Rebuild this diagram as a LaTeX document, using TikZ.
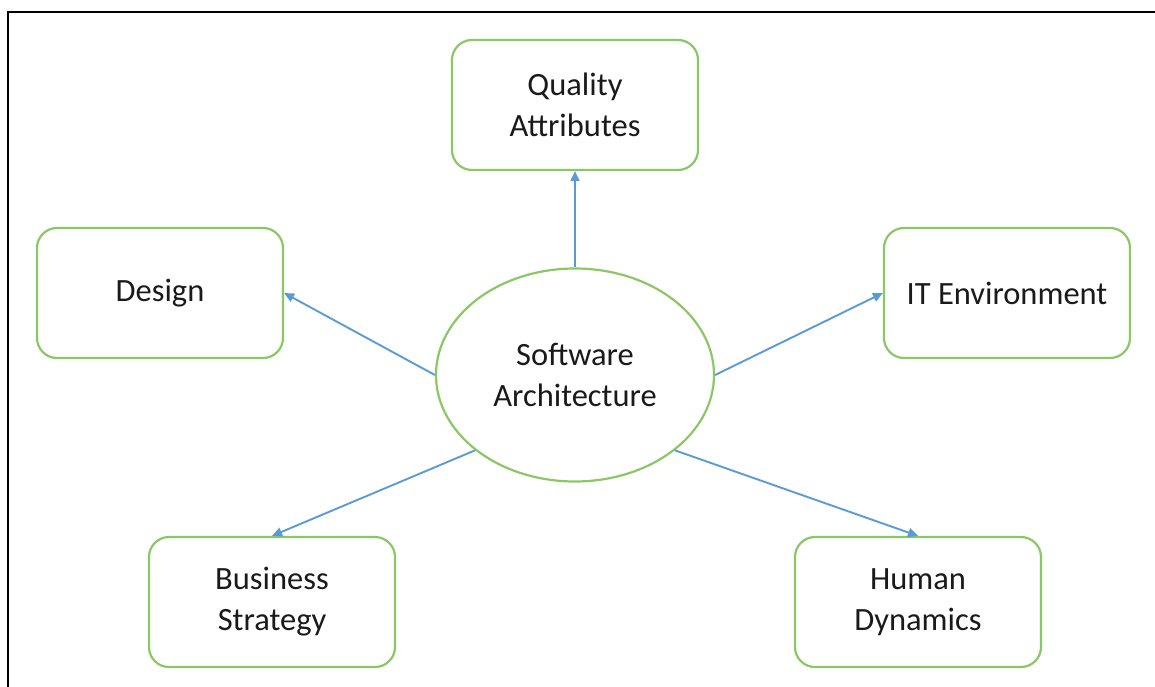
\documentclass[tikz,border=0pt]{standalone}
\usepackage{fontspec}
\setmainfont{Carlito}
\usetikzlibrary{shapes.geometric,arrows.meta}
\definecolor{boxgreen}{HTML}{8BC765}
\definecolor{arrowblue}{HTML}{5B9BD5}
\definecolor{txt}{HTML}{1A1A1A}
\tikzset{
  topic/.style={draw=boxgreen, line width=2.2pt, rounded corners=20pt, minimum width=246pt, minimum height=130pt, align=center, inner sep=0pt, text=txt, font=\fontsize{32.5pt}{41pt}\selectfont},
  hub/.style={draw=boxgreen, line width=2.2pt, ellipse, minimum width=278pt, minimum height=213pt, inner sep=0pt, align=center, text=txt, font=\fontsize{32.5pt}{41pt}\selectfont},
  link/.style={draw=arrowblue, line width=1.9pt, -{Triangle[length=10pt,width=9pt]}},
  frame/.style={draw=black, line width=2.2pt}
}
\begin{document}
\begin{tikzpicture}[x=1pt,y=-1pt]
\useasboundingbox (0,0) rectangle (1155,687);
\coordinate (fa) at (8,687);
\coordinate (fb) at (8,12);
\coordinate (fc) at (1155,12);
\draw[frame] (fa) -- (fb) -- (fc);
\node[hub] (sa) at (575,375) {Software\\Architecture};
\node[topic] (qa) at (575,105) {Quality\\Attributes};
\node[topic] (de) at (160,293) {Design};
\node[topic] (it) at (1007,293) {IT Environment};
\node[topic] (bs) at (272,602) {Business\\Strategy};
\node[topic] (hd) at (918,602) {Human\\Dynamics};
\draw[link] (sa.north) -- (qa.south);
\draw[link] (sa.west) -- (de.east);
\draw[link] (sa.east) -- (it.west);
\draw[link] (sa.217.5) -- (bs.north);
\draw[link] (sa.-37) -- (hd.north);
\end{tikzpicture}
\end{document}
